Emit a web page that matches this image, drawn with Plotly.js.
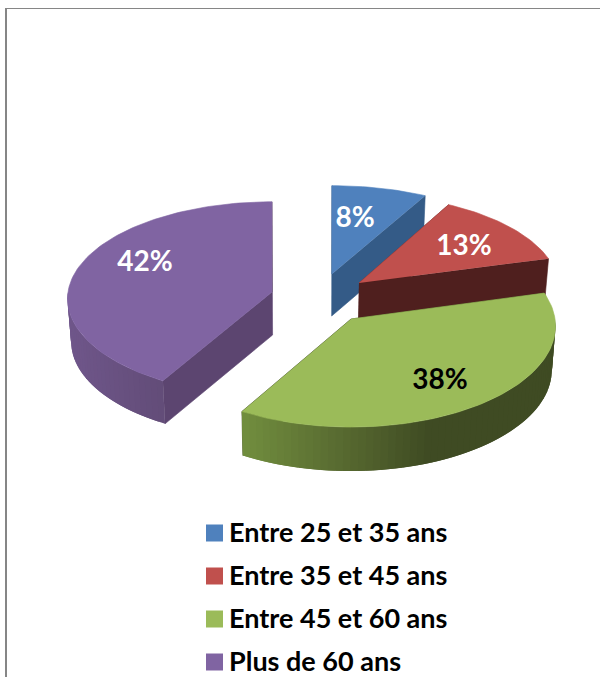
<!DOCTYPE html>
<html>
<head>
<meta charset="utf-8">
<script src="https://cdn.plot.ly/plotly-3.0.1.min.js"></script>
<style>html,body{margin:0;padding:0;background:#fff}#chart{width:600px;height:677px}</style>
</head>
<body>
<div id="chart"></div>
<script>
// Data
var categories = ["Entre 25 et 35 ans", "Entre 35 et 45 ans", "Entre 45 et 60 ans", "Plus de 60 ans"];
var values = [8, 13, 38, 42];

// Styles
var topColors = ["#4f81bd", "#c0504d", "#9bbb59", "#8064a2"];
var cutColors = ["#345b87", "#4f1f1e", "#3f4b23", "#5c4570"];
var labelColors = ["#ffffff", "#ffffff", "#000000", "#ffffff"];
var wallStops = [
  [[0, "#345b87"], [600, "#345b87"]],
  [[0, "#4f1f1e"], [600, "#4f1f1e"]],
  [[243, "#718e3e"], [330, "#5b6e32"], [430, "#3f4b23"], [560, "#3f4b23"]],
  [[68, "#6f568a"], [165, "#624c78"]]
];

// Projection of each exploded slice, in page pixels
var apexX = [332, 359, 351, 272];
var apexY = [274, 283, 319, 292];
var radiusX = [208, 200, 204, 204];
var radiusY = [95, 95, 101, 97];
var depth = [42, 40, 44, 43];
var labelX = [355, 464, 440, 145];
var labelY = [220, 248, 382, 264];
var legendRowY = [533, 576, 619, 662];
var PERSPECTIVE = 0.07, SHRINK = 0.985, CX = 310;

var total = values.reduce(function (a, b) { return a + b; }, 0);
var D2R = Math.PI / 180;

function pt(i, deg, low) {
  var a = deg * D2R, p = 1 - PERSPECTIVE * Math.cos(a);
  var x = apexX[i] + Math.sin(a) * radiusX[i] * p;
  var y = apexY[i] - Math.cos(a) * radiusY[i] * p;
  if (low) { x = CX + (x - CX) * SHRINK; y += depth[i]; }
  return [x, y];
}
function apex(i, low) {
  return low ? [CX + (apexX[i] - CX) * SHRINK, apexY[i] + depth[i]] : [apexX[i], apexY[i]];
}
function hexMix(c1, c2, t) {
  var out = "#";
  for (var k = 1; k < 7; k += 2) {
    var a = parseInt(c1.substr(k, 2), 16), b = parseInt(c2.substr(k, 2), 16);
    var v = Math.round(a + (b - a) * t).toString(16);
    out += v.length < 2 ? "0" + v : v;
  }
  return out;
}
function stopColor(stops, x) {
  if (x <= stops[0][0]) return stops[0][1];
  for (var k = 1; k < stops.length; k++) {
    if (x <= stops[k][0]) {
      return hexMix(stops[k - 1][1], stops[k][1], (x - stops[k - 1][0]) / (stops[k][0] - stops[k - 1][0]));
    }
  }
  return stops[stops.length - 1][1];
}
function poly(points, color, noLine) {
  return {
    type: "scatter", mode: "lines", fill: "toself", fillcolor: color,
    x: points.map(function (q) { return q[0]; }),
    y: points.map(function (q) { return q[1]; }),
    line: { color: color, width: noLine ? 0 : 0.6 },
    hoverinfo: "skip", showlegend: false
  };
}

var traces = [];
var startAngles = [], endAngles = [], acc = 0;
values.forEach(function (v) {
  startAngles.push(acc / total * 360);
  acc += v;
  endAngles.push(acc / total * 360);
});

[3, 0, 1, 2].forEach(function (i) {
  var s = startAngles[i], e = endAngles[i];
  // cut faces
  [s, e].forEach(function (ang) {
    traces.push(poly([apex(i, false), pt(i, ang, false), pt(i, ang, true), apex(i, true)], cutColors[i]));
  });
  // outer wall on the front half: bands overlap the next one so no seams appear
  var ws = Math.max(s, 90), we = Math.min(e, 270), STEP = 2;
  for (var a = ws; a < we; a += STEP) {
    var b = Math.min(a + 2 * STEP, we);
    var mid = pt(i, a + STEP / 2, false)[0];
    var band = [];
    for (var u = a; u < b; u += 0.5) band.push(pt(i, u, false));
    band.push(pt(i, b, false));
    band.push(pt(i, b, true));
    for (var w = b; w > a; w -= 0.5) band.push(pt(i, w, true));
    band.push(pt(i, a, true));
    traces.push(poly(band, stopColor(wallStops[i], mid), true));
  }
  // top surface
  var top = [apex(i, false)];
  for (var t = s; t < e; t += 1.5) top.push(pt(i, t, false));
  top.push(pt(i, e, false));
  traces.push(poly(top, topColors[i]));
});

// data labels
traces.push({
  type: "scatter", mode: "text",
  x: labelX, y: labelY,
  text: values.map(function (v) { return v + "%"; }),
  textposition: "middle center",
  textfont: { family: "Lato, Carlito, sans-serif", size: 28, weight: 700, color: labelColors },
  hoverinfo: "skip", showlegend: false
});

// legend, placed exactly: one swatch and one text per category
traces.push({
  type: "scatter", mode: "markers",
  x: categories.map(function () { return 214.5; }),
  y: legendRowY,
  marker: { symbol: "square", size: 17, color: topColors, line: { width: 0 } },
  hoverinfo: "skip", showlegend: false
});
traces.push({
  type: "scatter", mode: "text",
  x: categories.map(function () { return 229; }),
  y: legendRowY.map(function (v) { return v + 2; }),
  text: categories,
  textposition: "middle right",
  textfont: { family: "Lato, Carlito, sans-serif", size: 27, weight: 700, color: "#000000" },
  hoverinfo: "skip", showlegend: false
});

var layout = {
  width: 600, height: 677,
  margin: { l: 0, r: 0, t: 0, b: 0 },
  paper_bgcolor: "#ffffff", plot_bgcolor: "#ffffff",
  xaxis: { range: [0, 600], visible: false, fixedrange: true },
  yaxis: { range: [677, 0], visible: false, fixedrange: true },
  showlegend: false,
  shapes: [
    { type: "line", xref: "x", yref: "y", x0: 6, x1: 6, y0: 8, y1: 677, line: { color: "#868686", width: 2 } },
    { type: "line", xref: "x", yref: "y", x0: 5, x1: 600, y0: 8.5, y1: 8.5, line: { color: "#868686", width: 1 } }
  ]
};
Plotly.newPlot("chart", traces, layout, { displayModeBar: false, staticPlot: true });
</script>
</body>
</html>
